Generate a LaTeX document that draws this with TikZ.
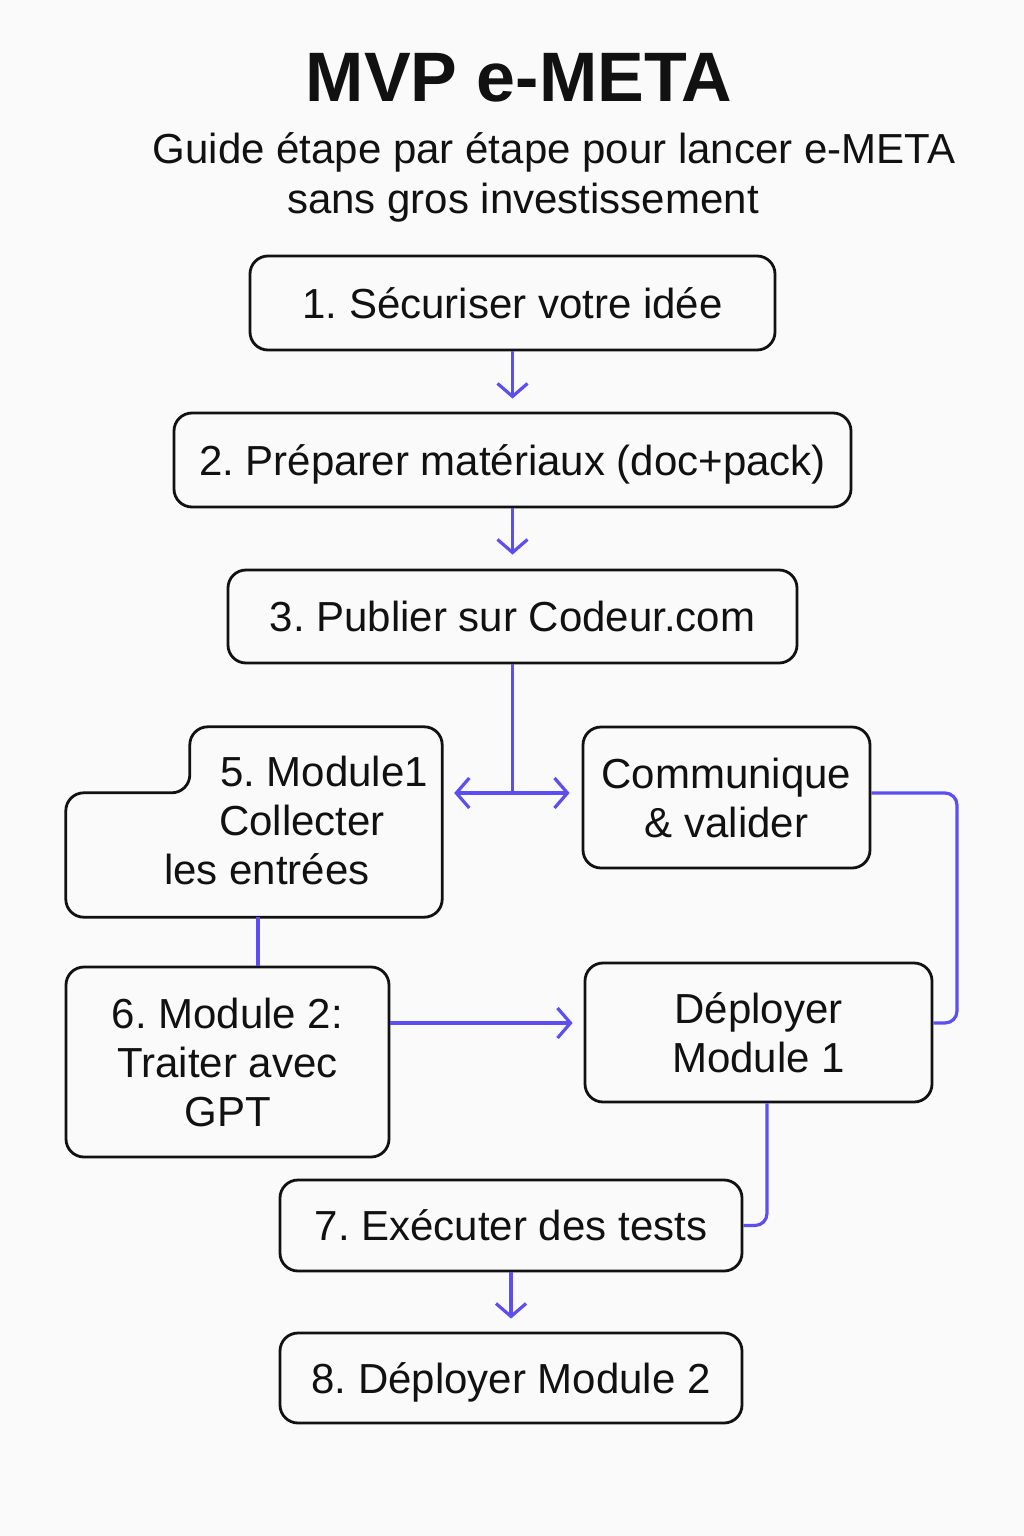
\documentclass[tikz,border=0pt]{standalone}
\usepackage{fontspec}
\setmainfont{Liberation Sans}
\usetikzlibrary{arrows.meta,calc}
\definecolor{bgc}{RGB}{250,250,250}
\definecolor{arrc}{RGB}{92,78,240}
\definecolor{ink}{RGB}{17,17,17}
\frenchspacing
\begin{document}
\frenchspacing
\begin{tikzpicture}[x=1pt,y=-1pt,
  txt/.style={text=ink, font=\fontsize{42}{49}\selectfont, inner sep=0pt},
  box/.style={txt, draw=ink, line width=2.8pt, rounded corners=18pt, fill=bgc, align=center},
  one/.style={text height=30pt, text depth=0pt},
  outline/.style={draw=ink, line width=2.8pt, rounded corners=18pt, fill=bgc},
  con/.style={draw=arrc, line width=3.2pt},
  >={Straight Barb[length=13pt,width=30pt]}]
\useasboundingbox (0,0) rectangle (1024,1536);
\fill[bgc] (0,0) rectangle (1024,1536);

% titles
\node[txt, font=\bfseries\fontsize{70}{80}\selectfont, anchor=base] (title) at (519,102) {MVP e-META};
\node[txt, anchor=base] (sub1) at (554,163) {Guide étape par étape pour lancer e-META};
\node[txt, anchor=base] (sub2) at (523,213) {sans gros investissement};

% boxes
\node[box, one, minimum width=525pt, minimum height=94pt] (b1) at (512.5,303) {1. Sécuriser votre idée};
\node[box, one, minimum width=677pt, minimum height=94pt] (b2) at (512.5,460) {2. Préparer matériaux (doc+pack)};
\node[box, one, minimum width=569pt, minimum height=93pt] (b3) at (512.5,616.5) {3. Publier sur Codeur.com};

% box 5 (notched shape)
\node[minimum width=376pt, minimum height=190pt, inner sep=0pt] (b5) at (254,822) {};
\draw[outline] (b5.north east) -- (b5.south east) -- (b5.south west)
  -- ($(b5.north west)+(0,66)$) -- ($(b5.north west)+(124,66)$)
  -- ($(b5.north west)+(124,0)$) -- cycle;
\node[txt, anchor=base] (t5a) at (324,786) {5. Module1};
\node[txt, anchor=base] (t5b) at (302,835) {Collecter};
\node[txt, anchor=base] (t5c) at (267,884) {les entrées};

\node[box, minimum width=287pt, minimum height=141pt] (bc) at (726.5,797.5) {Communique\\\& valider};
\node[box, minimum width=323pt, minimum height=190pt] (b6) at (227.5,1062) {6. Module 2:\\Traiter avec\\GPT};
\node[box, minimum width=347pt, minimum height=139pt] (bd) at (758.5,1032.5) {Déployer\\Module 1};
\node[box, one, minimum width=462pt, minimum height=91pt] (b7) at (511,1225.5) {7. Exécuter des tests};
\node[box, one, minimum width=462pt, minimum height=90pt] (b8) at (511,1378) {8. Déployer Module 2};

% connector anchors
\coordinate (split) at (512.5,793);
\coordinate (rc) at (957,793);
\coordinate (rd) at (957,1023);
\coordinate (j56) at (258,916);
\coordinate (h6) at (0,1023);
\coordinate (v7) at (767,0);

% connectors
\draw[con,->,shorten >=13pt] (b1.south) -- (b2.north);
\draw[con,->,shorten >=14pt] (b2.south) -- (b3.north);
\draw[con,rounded corners=4pt] (b3.south) -- (split);
\draw[con,<->,shorten <=12pt,shorten >=12pt] (b5.east |- split) -- (bc.west |- split);
\draw[con,rounded corners=12pt] (bc.east |- rc) -- (rc) -- (rd) -- (bd.east |- rd);
\draw[con] (b5.south -| j56) -- (b6.north -| j56);
\draw[con,->,shorten >=11pt] (b6.east |- h6) -- (bd.west |- h6);
\draw[con,rounded corners=12pt] (bd.south -| v7) |- (b7.east);
\draw[con,->,shorten >=13pt] (b7.south) -- (b8.north);
\end{tikzpicture}
\end{document}
